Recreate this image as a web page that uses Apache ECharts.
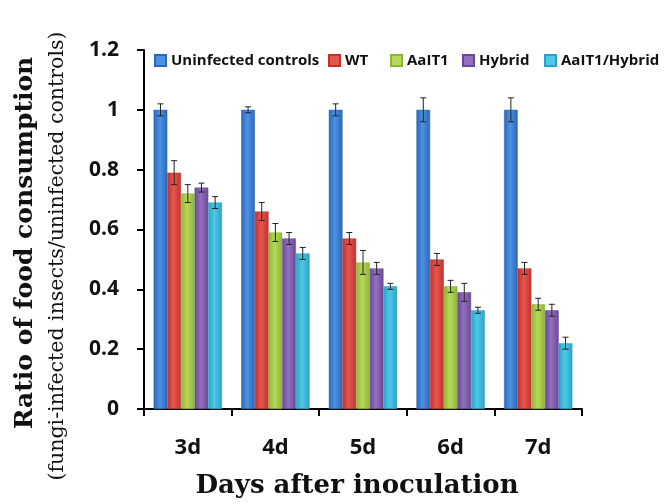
<!DOCTYPE html>
<html>
<head>
<meta charset="utf-8">
<script src="https://cdn.jsdelivr.net/npm/echarts@6/dist/echarts.min.js"></script>
<style>
  html, body { margin: 0; padding: 0; background: #fff; }
  #chart { width: 667px; height: 504px; }
</style>
</head>
<body>
<div id="chart"></div>
<script>
const days = ['3d', '4d', '5d', '6d', '7d'];
const seriesNames = ['Uninfected controls', 'WT', 'AaIT1', 'Hybrid', 'AaIT1/Hybrid'];

const controls = [1.00, 1.00, 1.00, 1.00, 1.00];
const wt = [0.79, 0.66, 0.57, 0.50, 0.47];
const aaIT1 = [0.72, 0.59, 0.49, 0.41, 0.35];
const hybrid = [0.74, 0.57, 0.47, 0.39, 0.33];
const aaIT1Hybrid = [0.69, 0.52, 0.41, 0.33, 0.22];

// error bar half-widths
const controlsErr = [0.02, 0.01, 0.02, 0.04, 0.04];
const wtErr = [0.04, 0.03, 0.02, 0.02, 0.02];
const aaIT1Err = [0.03, 0.03, 0.04, 0.02, 0.02];
const hybridErr = [0.015, 0.02, 0.02, 0.03, 0.02];
const aaIT1HybridErr = [0.02, 0.02, 0.01, 0.01, 0.02];

const yTicks = [0, 0.2, 0.4, 0.6, 0.8, 1, 1.2];

const values = [controls, wt, aaIT1, hybrid, aaIT1Hybrid];
const errors = [controlsErr, wtErr, aaIT1Err, hybridErr, aaIT1HybridErr];

// edge, center colours for the cylinder look
const palette = [
  ['#2c66b8', '#4d92e2'],
  ['#c4302c', '#e4574f'],
  ['#8db535', '#b6d85c'],
  ['#6a4896', '#9370bf'],
  ['#2aa2c6', '#4fc8e6']
];
// legend square x positions (Excel-style fixed slots)
const legendLeft = [154, 328, 390, 462, 544];

const catGap = 0.22;

function grad(c) {
  return new echarts.graphic.LinearGradient(0, 0, 1, 0, [
    { offset: 0, color: c[0] },
    { offset: 0.45, color: c[1] },
    { offset: 1, color: c[0] }
  ]);
}

const myChart = echarts.init(document.getElementById('chart'));

const series = [];
seriesNames.forEach((name, i) => {
  series.push({
    name: name,
    type: 'bar',
    barGap: '0%',
    barCategoryGap: (catGap * 100) + '%',
    itemStyle: { color: grad(palette[i]), borderColor: palette[i][0], borderWidth: 0.5 },
    data: values[i]
  });
});

seriesNames.forEach((name, i) => {
  series.push({
    type: 'custom',
    name: name + ' err',
    z: 10,
    silent: true,
    data: values[i].map((v, k) => [k, v - errors[i][k], v + errors[i][k]]),
    renderItem: function (params, api) {
      const k = api.value(0);
      const lo = api.coord([k, api.value(1)]);
      const hi = api.coord([k, api.value(2)]);
      const band = api.size([1, 0])[0];
      const bw = band * (1 - catGap) / seriesNames.length;
      const x = lo[0] + (i - 2) * bw;
      const cap = 3;
      const st = { stroke: '#222', lineWidth: 1 };
      return {
        type: 'group',
        children: [
          { type: 'line', shape: { x1: x, y1: lo[1], x2: x, y2: hi[1] }, style: st },
          { type: 'line', shape: { x1: x - cap, y1: lo[1], x2: x + cap, y2: lo[1] }, style: st },
          { type: 'line', shape: { x1: x - cap, y1: hi[1], x2: x + cap, y2: hi[1] }, style: st }
        ]
      };
    }
  });
});

const option = {
  animation: false,
  legend: seriesNames.map((n, i) => ({
    data: [{ name: n, itemStyle: { color: palette[i][1] } }],
    left: legendLeft[i],
    top: 53,
    padding: 0,
    itemWidth: 11,
    itemHeight: 11,
    icon: 'rect',
    textStyle: { fontFamily: 'Open Sans', fontWeight: 'bold', fontSize: 15, color: '#111' }
  })),
  grid: { left: 144, right: 85, top: 50, bottom: 95 },
  xAxis: {
    type: 'category',
    data: days,
    axisLine: { lineStyle: { color: '#000', width: 2 } },
    axisTick: { show: true, length: 7, lineStyle: { color: '#000', width: 2 } },
    axisLabel: { color: '#111', fontFamily: 'Open Sans', fontWeight: 'bold', fontSize: 22, margin: 28 }
  },
  yAxis: {
    type: 'value',
    min: 0,
    max: yTicks[yTicks.length - 1],
    interval: 0.2,
    splitLine: { show: false },
    axisLine: { show: true, lineStyle: { color: '#000', width: 2 } },
    axisTick: { show: true, length: 7, lineStyle: { color: '#000', width: 2 } },
    axisLabel: {
      color: '#111', fontFamily: 'Open Sans', fontWeight: 'bold', fontSize: 21, margin: 25,
      formatter: v => String(Math.round(v * 10) / 10)
    }
  },
  graphic: [
    {
      type: 'text', rotation: Math.PI / 2, x: 25, y: 243,
      style: {
        text: 'Ratio of food consumption', fill: '#111',
        font: 'bold 25px "DejaVu Serif"', textAlign: 'center', textVerticalAlign: 'middle'
      }
    },
    {
      type: 'text', rotation: Math.PI / 2, x: 58, y: 256,
      style: {
        text: '(fungi-infected insects/uninfected controls)', fill: '#111',
        font: '20.5px "DejaVu Serif"', textAlign: 'center', textVerticalAlign: 'middle'
      }
    },
    {
      type: 'text', x: 357, y: 486,
      style: {
        text: 'Days after inoculation', fill: '#111',
        font: 'bold 26px "DejaVu Serif"', textAlign: 'center', textVerticalAlign: 'middle'
      }
    }
  ],
  series: series
};

myChart.setOption(option);
</script>
</body>
</html>
